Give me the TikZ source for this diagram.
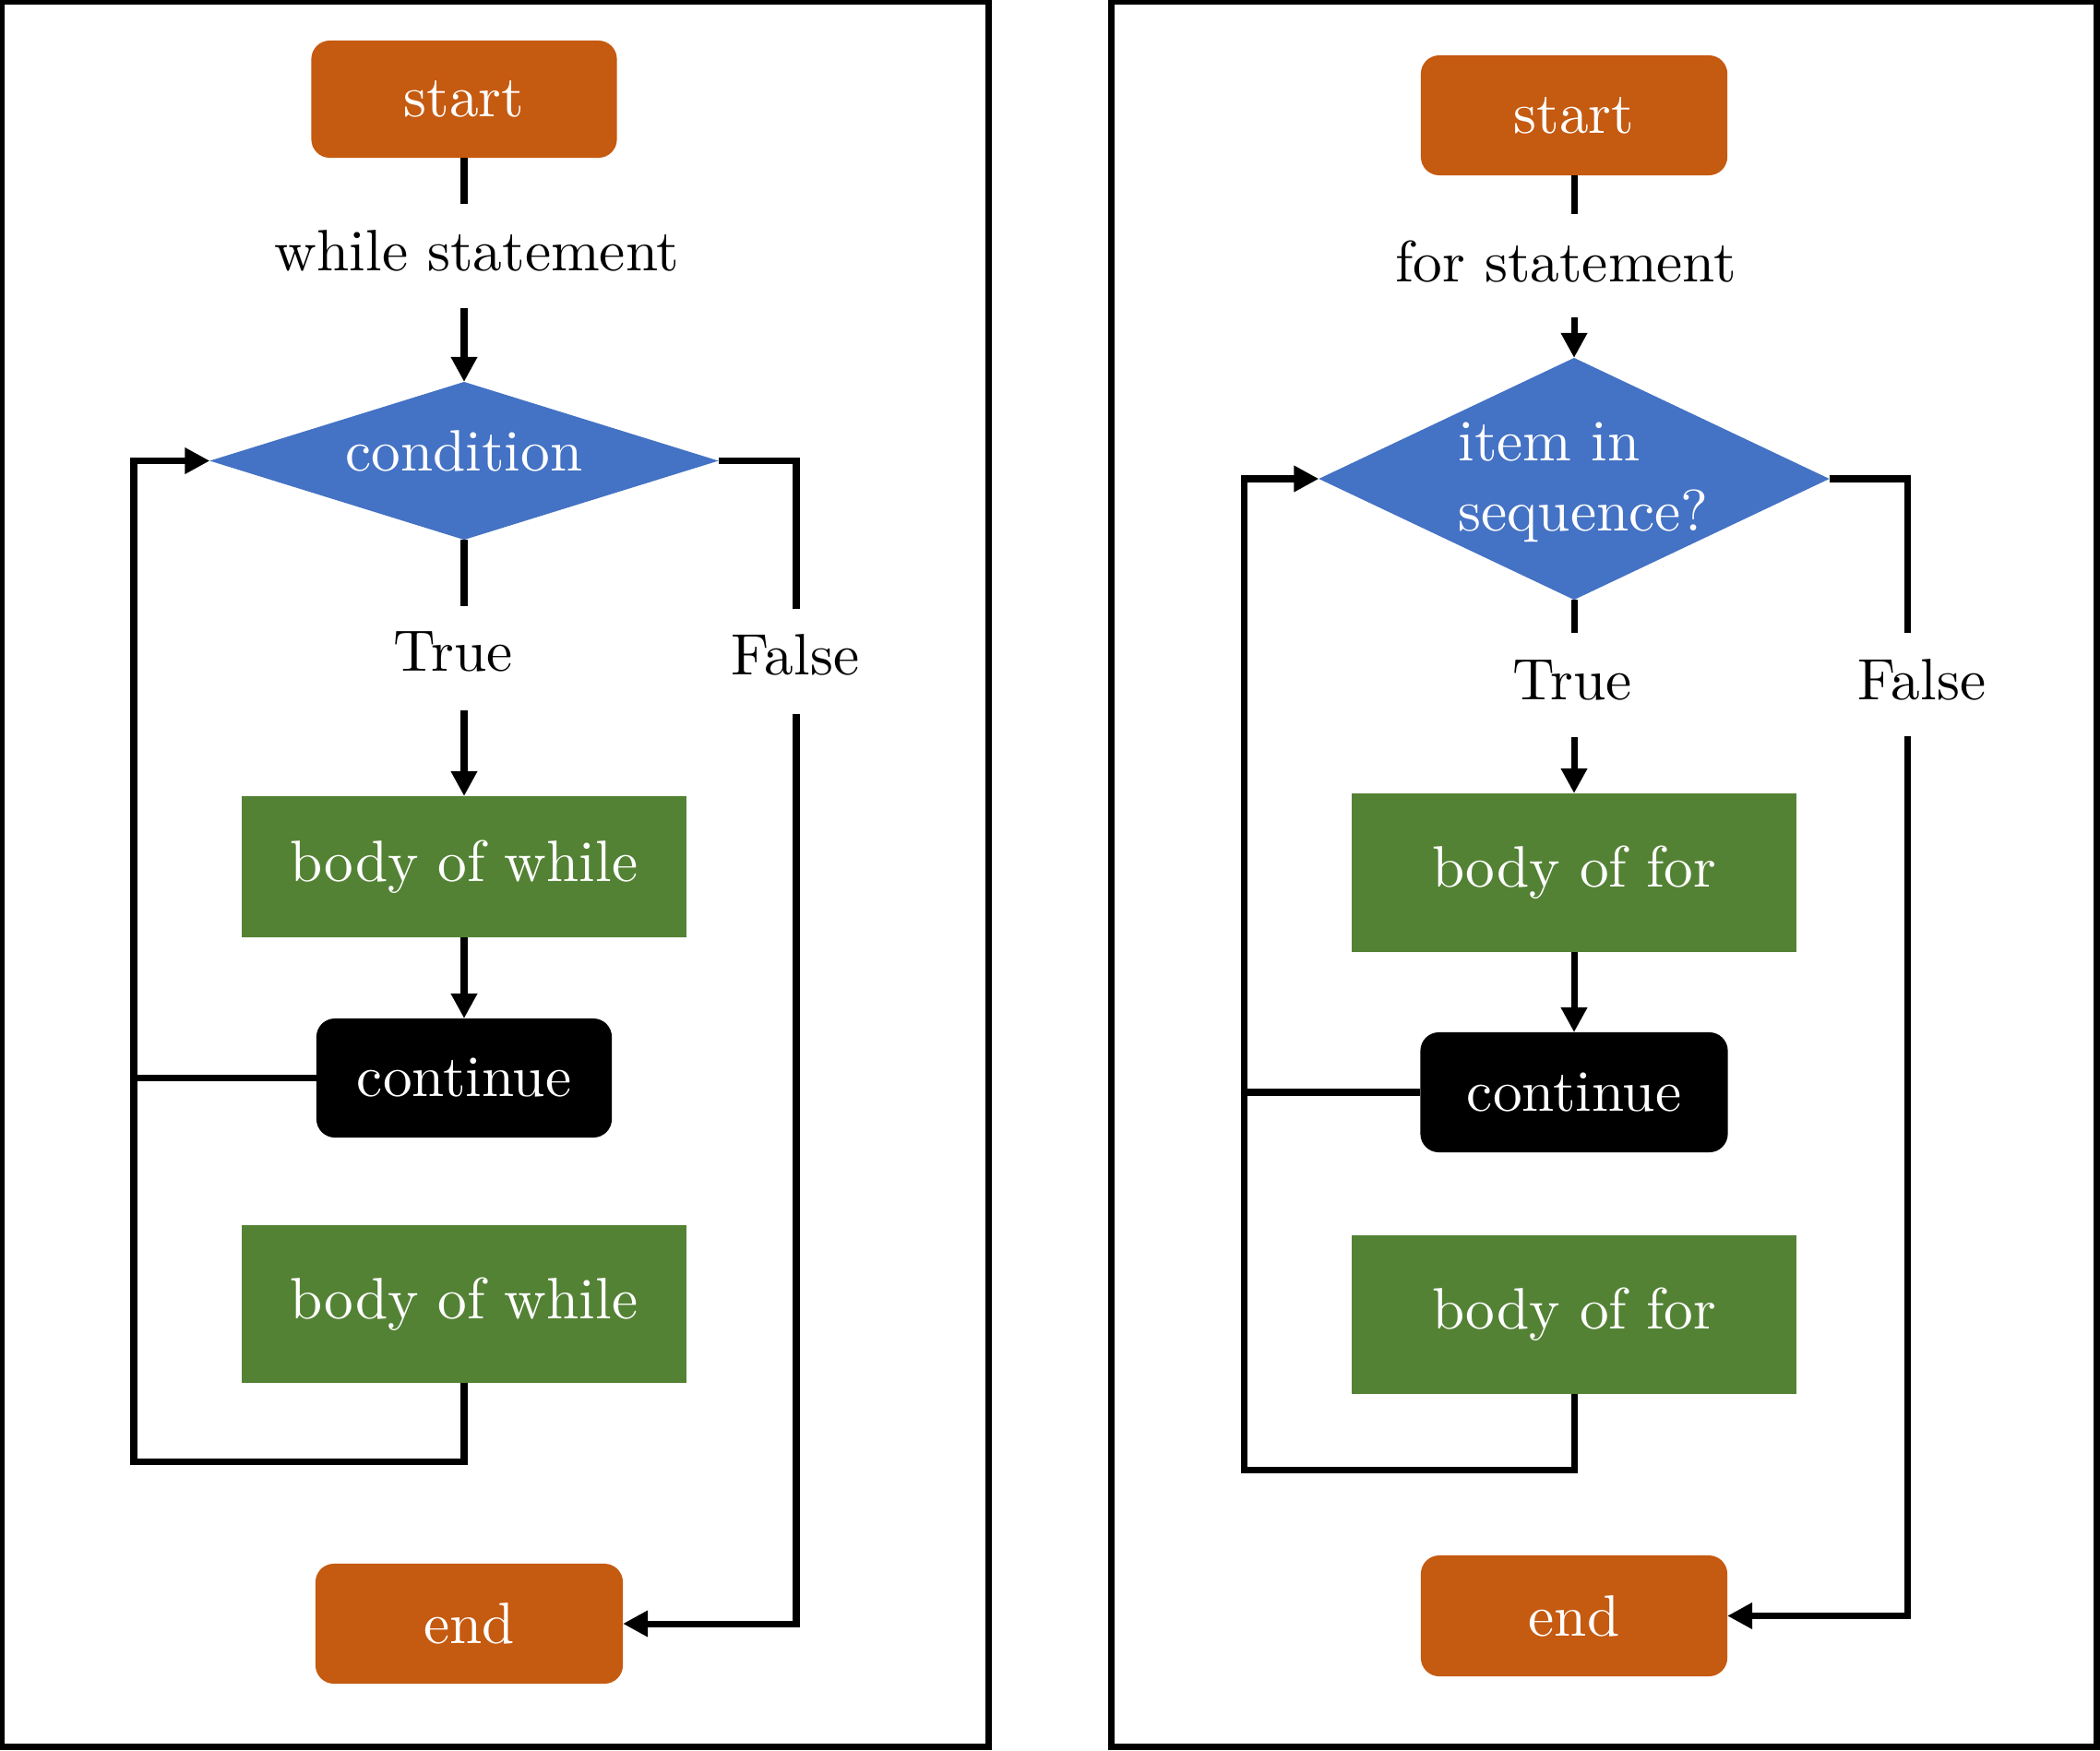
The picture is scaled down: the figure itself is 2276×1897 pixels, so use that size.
\documentclass[tikz,border=0pt]{standalone}
\usetikzlibrary{arrows.meta,shapes.geometric}
\definecolor{borange}{HTML}{C55A11}
\definecolor{bblue}{HTML}{4472C4}
\definecolor{bgreen}{HTML}{548235}
\font\reffont="[lmroman10-regular]:mapping=tex-text" at 18pt
\begin{document}
\begin{tikzpicture}[x=0.01cm,y=-0.01cm,
  every node/.style={font={\fontsize{18}{21.6}\selectfont\reffont},outer sep=0pt},
  conn/.style={line width=2pt},
  arr/.style={line width=2pt,-{Triangle[length=7.7pt,width=7.7pt]}},
  frame/.style={line width=2pt},
  termbox/.style={fill=borange,text=white,rounded corners=0.2cm,inner sep=0pt},
  bodybox/.style={fill=bgreen,text=white,inner sep=0pt,minimum width=4.82cm},
  contbox/.style={fill=black,text=white,rounded corners=0.2cm,inner sep=0pt},
  decbox/.style={diamond,fill=bblue,text=white,inner sep=0pt},
  lbl/.style={inner sep=0pt}]
\useasboundingbox (0,0) rectangle (2276,1897);
% frames
\draw[frame] (1.2,1.2) rectangle (1071,1893.5);
\draw[frame] (1204.5,1.2) rectangle (2272.5,1893.5);

% ---------------- left: while ----------------
\node[termbox,minimum width=3.31cm,minimum height=1.27cm] (s1) at (503,107.5) {start};
\node[lbl] (wst) at (517,272) {while statement};
\node[decbox,shape aspect=3.22,minimum width=5.51cm,minimum height=1.71cm,text depth=6.2pt] (c1) at (503,499.5) {condition};
\node[lbl] (t1) at (491,706) {True};
\node[lbl] (f1) at (862,710) {False};
\node[bodybox,minimum height=1.53cm] (b1) at (503,939.5) {body of while};
\node[contbox,minimum width=3.20cm,minimum height=1.29cm] (k1) at (503,1168.5) {continue};
\node[bodybox,minimum height=1.71cm] (b1b) at (503,1413.5) {body of while};
\node[termbox,minimum width=3.33cm,minimum height=1.30cm] (e1) at (508.5,1760) {end};

\coordinate (a1) at (503,221);
\coordinate (a2) at (503,334);
\coordinate (a3) at (503,657);
\coordinate (a4) at (503,770);
\coordinate (lp1) at (145,1584);
\coordinate (fa1) at (863,660);
\coordinate (fb1) at (863,774);

\draw[conn] (s1.south) -- (a1);
\draw[arr] (a2) -- (c1.north);
\draw[conn] (c1.south) -- (a3);
\draw[arr] (a4) -- (b1.north);
\draw[arr] (b1.south) -- (k1.north);
\draw[conn] (k1.west) -- (k1.west -| lp1);
\draw[arr] (b1b.south) |- (lp1) |- (c1.west);
\draw[conn] (c1.east) -| (fa1);
\draw[arr] (fb1) |- (e1.east);

% ---------------- right: for ----------------
\node[termbox,minimum width=3.32cm,minimum height=1.30cm] (s2) at (1706,125) {start};
\node[lbl] (fst) at (1697,284) {for statement};
\node[decbox,shape aspect=2.11,minimum width=5.53cm,minimum height=2.62cm] (d2) at (1706,519) {};
\node[lbl,text=white,align=left] (d2txt) at (1716,523) {item in\\sequence?};
\node[lbl] (t2) at (1704,737) {True};
\node[lbl] (f2) at (2083,737) {False};
\node[bodybox,minimum height=1.72cm] (b2) at (1706,946) {body of for};
\node[contbox,minimum width=3.33cm,minimum height=1.30cm] (k2) at (1706,1184) {continue};
\node[bodybox,minimum height=1.72cm] (b2b) at (1706,1425) {body of for};
\node[termbox,minimum width=3.32cm,minimum height=1.31cm] (e2) at (1706,1751.5) {end};

\coordinate (r1) at (1706,232);
\coordinate (r2) at (1706,344);
\coordinate (r3) at (1706,686);
\coordinate (r4) at (1706,799);
\coordinate (lp2) at (1348,1593);
\coordinate (fa2) at (2067,686);
\coordinate (fb2) at (2067,798);

\draw[conn] (s2.south) -- (r1);
\draw[arr] (r2) -- (d2.north);
\draw[conn] (d2.south) -- (r3);
\draw[arr] (r4) -- (b2.north);
\draw[arr] (b2.south) -- (k2.north);
\draw[conn] (k2.west) -- (k2.west -| lp2);
\draw[arr] (b2b.south) |- (lp2) |- (d2.west);
\draw[conn] (d2.east) -| (fa2);
\draw[arr] (fb2) |- (e2.east);
\end{tikzpicture}
\end{document}
